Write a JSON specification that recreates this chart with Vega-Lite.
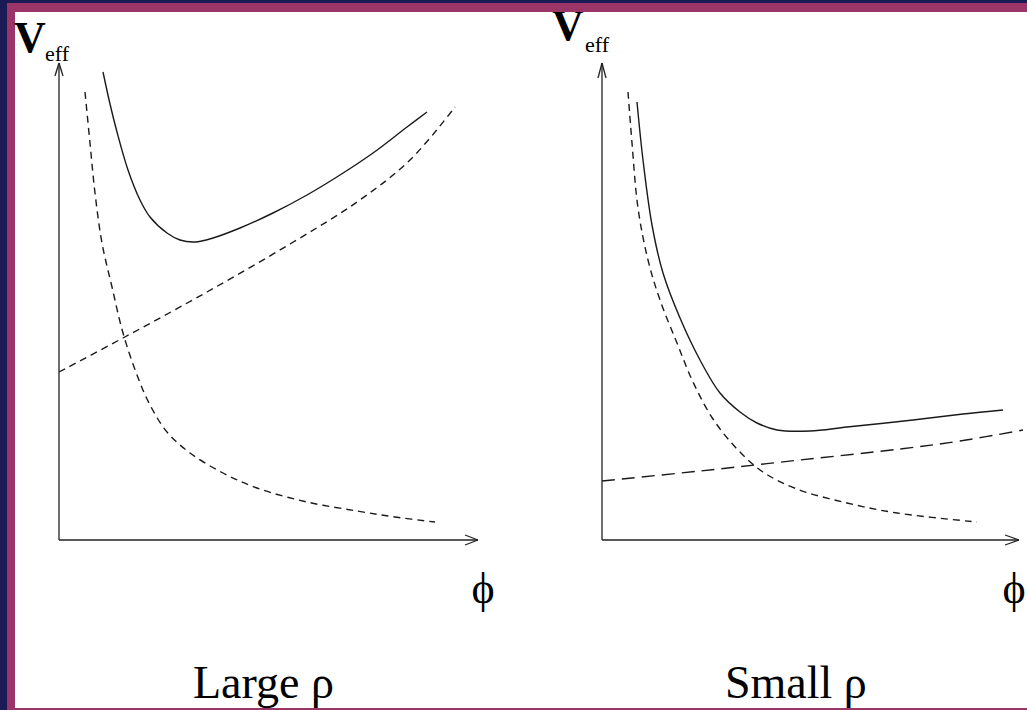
{
  "$schema": "https://vega.github.io/schema/vega-lite/v6.json",
  "autosize": {"type": "fit", "contains": "padding"},
  "width": 1027,
  "height": 710,
  "padding": 0,
  "background": "#1a1a55",
  "config": {"view": {"stroke": null}},
  "datasets": {
    "frame": [
      {"part": "border", "x": 7, "x2": 1027, "y": 0, "y2": 707},
      {"part": "paper", "x": 15, "x2": 1027, "y": 2, "y2": 698},
      {"part": "topband", "x": 7, "x2": 1027, "y": 698, "y2": 707}
    ],
    "curves": [
      {"id": "L_total", "style": "solid", "x": 103, "y": 638},
      {"id": "L_total", "style": "solid", "x": 110, "y": 606},
      {"id": "L_total", "style": "solid", "x": 117, "y": 578},
      {"id": "L_total", "style": "solid", "x": 128, "y": 540},
      {"id": "L_total", "style": "solid", "x": 140, "y": 510},
      {"id": "L_total", "style": "solid", "x": 150, "y": 493},
      {"id": "L_total", "style": "solid", "x": 167, "y": 477},
      {"id": "L_total", "style": "solid", "x": 180, "y": 470},
      {"id": "L_total", "style": "solid", "x": 195, "y": 468},
      {"id": "L_total", "style": "solid", "x": 213, "y": 472},
      {"id": "L_total", "style": "solid", "x": 240, "y": 482},
      {"id": "L_total", "style": "solid", "x": 273, "y": 497},
      {"id": "L_total", "style": "solid", "x": 307, "y": 515},
      {"id": "L_total", "style": "solid", "x": 340, "y": 535},
      {"id": "L_total", "style": "solid", "x": 373, "y": 557},
      {"id": "L_total", "style": "solid", "x": 407, "y": 583},
      {"id": "L_total", "style": "solid", "x": 427, "y": 598},
      {"id": "L_rise", "style": "dash", "x": 59, "y": 338},
      {"id": "L_rise", "style": "dash", "x": 123, "y": 372},
      {"id": "L_rise", "style": "dash", "x": 207, "y": 418},
      {"id": "L_rise", "style": "dash", "x": 290, "y": 466},
      {"id": "L_rise", "style": "dash", "x": 357, "y": 508},
      {"id": "L_rise", "style": "dash", "x": 410, "y": 550},
      {"id": "L_rise", "style": "dash", "x": 455, "y": 603},
      {"id": "L_fall", "style": "dash", "x": 85, "y": 618},
      {"id": "L_fall", "style": "dash", "x": 90, "y": 567},
      {"id": "L_fall", "style": "dash", "x": 95, "y": 517},
      {"id": "L_fall", "style": "dash", "x": 102, "y": 467},
      {"id": "L_fall", "style": "dash", "x": 112, "y": 423},
      {"id": "L_fall", "style": "dash", "x": 123, "y": 377},
      {"id": "L_fall", "style": "dash", "x": 137, "y": 335},
      {"id": "L_fall", "style": "dash", "x": 150, "y": 305},
      {"id": "L_fall", "style": "dash", "x": 167, "y": 278},
      {"id": "L_fall", "style": "dash", "x": 190, "y": 257},
      {"id": "L_fall", "style": "dash", "x": 223, "y": 237},
      {"id": "L_fall", "style": "dash", "x": 257, "y": 222},
      {"id": "L_fall", "style": "dash", "x": 307, "y": 208},
      {"id": "L_fall", "style": "dash", "x": 357, "y": 199},
      {"id": "L_fall", "style": "dash", "x": 395, "y": 193},
      {"id": "L_fall", "style": "dash", "x": 435, "y": 188},
      {"id": "R_total", "style": "solid", "x": 637, "y": 608},
      {"id": "R_total", "style": "solid", "x": 643, "y": 550},
      {"id": "R_total", "style": "solid", "x": 652, "y": 485},
      {"id": "R_total", "style": "solid", "x": 663, "y": 437},
      {"id": "R_total", "style": "solid", "x": 680, "y": 392},
      {"id": "R_total", "style": "solid", "x": 700, "y": 350},
      {"id": "R_total", "style": "solid", "x": 720, "y": 317},
      {"id": "R_total", "style": "solid", "x": 740, "y": 298},
      {"id": "R_total", "style": "solid", "x": 757, "y": 287},
      {"id": "R_total", "style": "solid", "x": 777, "y": 280},
      {"id": "R_total", "style": "solid", "x": 810, "y": 279},
      {"id": "R_total", "style": "solid", "x": 847, "y": 283},
      {"id": "R_total", "style": "solid", "x": 913, "y": 290},
      {"id": "R_total", "style": "solid", "x": 963, "y": 296},
      {"id": "R_total", "style": "solid", "x": 1003, "y": 300},
      {"id": "R_fall", "style": "dash", "x": 628, "y": 618},
      {"id": "R_fall", "style": "dash", "x": 632, "y": 567},
      {"id": "R_fall", "style": "dash", "x": 638, "y": 502},
      {"id": "R_fall", "style": "dash", "x": 648, "y": 450},
      {"id": "R_fall", "style": "dash", "x": 660, "y": 410},
      {"id": "R_fall", "style": "dash", "x": 677, "y": 367},
      {"id": "R_fall", "style": "dash", "x": 693, "y": 328},
      {"id": "R_fall", "style": "dash", "x": 713, "y": 291},
      {"id": "R_fall", "style": "dash", "x": 737, "y": 261},
      {"id": "R_fall", "style": "dash", "x": 763, "y": 238},
      {"id": "R_fall", "style": "dash", "x": 797, "y": 221},
      {"id": "R_fall", "style": "dash", "x": 847, "y": 207},
      {"id": "R_fall", "style": "dash", "x": 897, "y": 197},
      {"id": "R_fall", "style": "dash", "x": 977, "y": 188},
      {"id": "R_rise", "style": "longdash", "x": 602, "y": 229},
      {"id": "R_rise", "style": "longdash", "x": 700, "y": 239},
      {"id": "R_rise", "style": "longdash", "x": 800, "y": 250},
      {"id": "R_rise", "style": "longdash", "x": 900, "y": 261},
      {"id": "R_rise", "style": "longdash", "x": 960, "y": 269},
      {"id": "R_rise", "style": "longdash", "x": 1023, "y": 280}
    ],
    "axes": [
      {"x": 59, "y": 170, "x2": 59, "y2": 647},
      {"x": 59, "y": 647, "x2": 55, "y2": 634},
      {"x": 59, "y": 647, "x2": 63, "y2": 634},
      {"x": 59, "y": 170, "x2": 478, "y2": 170},
      {"x": 478, "y": 170, "x2": 465, "y2": 175},
      {"x": 478, "y": 170, "x2": 465, "y2": 165},
      {"x": 602, "y": 170, "x2": 602, "y2": 647},
      {"x": 602, "y": 647, "x2": 598, "y2": 632},
      {"x": 602, "y": 647, "x2": 606, "y2": 632},
      {"x": 602, "y": 170, "x2": 1019, "y2": 170},
      {"x": 1019, "y": 170, "x2": 1005, "y2": 175},
      {"x": 1019, "y": 170, "x2": 1005, "y2": 165}
    ],
    "labels": [
      {"kind": "V", "x": 30, "y": 658, "text": "V"},
      {"kind": "V", "x": 568, "y": 670, "text": "V"},
      {"kind": "sub", "x": 45, "y": 649, "text": "eff"},
      {"kind": "sub", "x": 585, "y": 658, "text": "eff"},
      {"kind": "phi", "x": 483, "y": 107, "text": "ϕ"},
      {"kind": "phi", "x": 1014, "y": 107, "text": "ϕ"},
      {"kind": "title", "x": 193, "y": 12, "text": "Large  ρ"},
      {"kind": "title", "x": 725, "y": 12, "text": "Small  ρ"}
    ]
  },
  "encoding": {
    "x": {"field": "x", "type": "quantitative", "scale": {"domain": [0, 1027], "nice": false, "zero": false}, "axis": null},
    "y": {"field": "y", "type": "quantitative", "scale": {"domain": [0, 710], "nice": false, "zero": false}, "axis": null}
  },
  "layer": [
    {
      "data": {"name": "frame"},
      "transform": [{"filter": "datum.part === 'border'"}],
      "mark": {"type": "rect", "fill": "#9b3567"},
      "encoding": {"x2": {"field": "x2"}, "y2": {"field": "y2"}}
    },
    {
      "data": {"name": "frame"},
      "transform": [{"filter": "datum.part === 'paper'"}],
      "mark": {"type": "rect", "fill": "#ffffff"},
      "encoding": {"x2": {"field": "x2"}, "y2": {"field": "y2"}}
    },
    {
      "data": {"name": "axes"},
      "mark": {"type": "rule", "color": "#222222", "strokeWidth": 1.3},
      "encoding": {"x2": {"field": "x2"}, "y2": {"field": "y2"}}
    },
    {
      "data": {"name": "curves"},
      "transform": [{"filter": "datum.style === 'solid'"}],
      "mark": {"type": "line", "color": "#1a1a1a", "strokeWidth": 1.4, "interpolate": "catmull-rom"},
      "encoding": {"detail": {"field": "id"}}
    },
    {
      "data": {"name": "curves"},
      "transform": [{"filter": "datum.style === 'dash'"}],
      "mark": {"type": "line", "color": "#1a1a1a", "strokeWidth": 1.4, "strokeDash": [7, 5], "interpolate": "catmull-rom"},
      "encoding": {"detail": {"field": "id"}}
    },
    {
      "data": {"name": "curves"},
      "transform": [{"filter": "datum.style === 'longdash'"}],
      "mark": {"type": "line", "color": "#1a1a1a", "strokeWidth": 1.4, "strokeDash": [13, 7], "interpolate": "catmull-rom"},
      "encoding": {"detail": {"field": "id"}}
    },
    {
      "data": {"name": "labels"},
      "transform": [{"filter": "datum.kind === 'V'"}],
      "mark": {"type": "text", "clip": true, "font": "Liberation Serif", "fontSize": 44, "fontWeight": "bold", "align": "center", "baseline": "alphabetic", "color": "#000000"},
      "encoding": {"text": {"field": "text"}}
    },
    {
      "data": {"name": "labels"},
      "transform": [{"filter": "datum.kind === 'sub'"}],
      "mark": {"type": "text", "clip": true, "font": "Liberation Serif", "fontSize": 22, "align": "left", "baseline": "alphabetic", "color": "#000000"},
      "encoding": {"text": {"field": "text"}}
    },
    {
      "data": {"name": "labels"},
      "transform": [{"filter": "datum.kind === 'phi'"}],
      "mark": {"type": "text", "clip": true, "font": "Liberation Serif", "fontSize": 44, "align": "center", "baseline": "alphabetic", "color": "#000000"},
      "encoding": {"text": {"field": "text"}}
    },
    {
      "data": {"name": "labels"},
      "transform": [{"filter": "datum.kind === 'title'"}],
      "mark": {"type": "text", "clip": true, "font": "Liberation Serif", "fontSize": 46, "align": "left", "baseline": "alphabetic", "color": "#000000"},
      "encoding": {"text": {"field": "text"}}
    },
    {
      "data": {"name": "frame"},
      "transform": [{"filter": "datum.part === 'topband'"}],
      "mark": {"type": "rect", "fill": "#9b3567"},
      "encoding": {"x2": {"field": "x2"}, "y2": {"field": "y2"}}
    }
  ]
}
